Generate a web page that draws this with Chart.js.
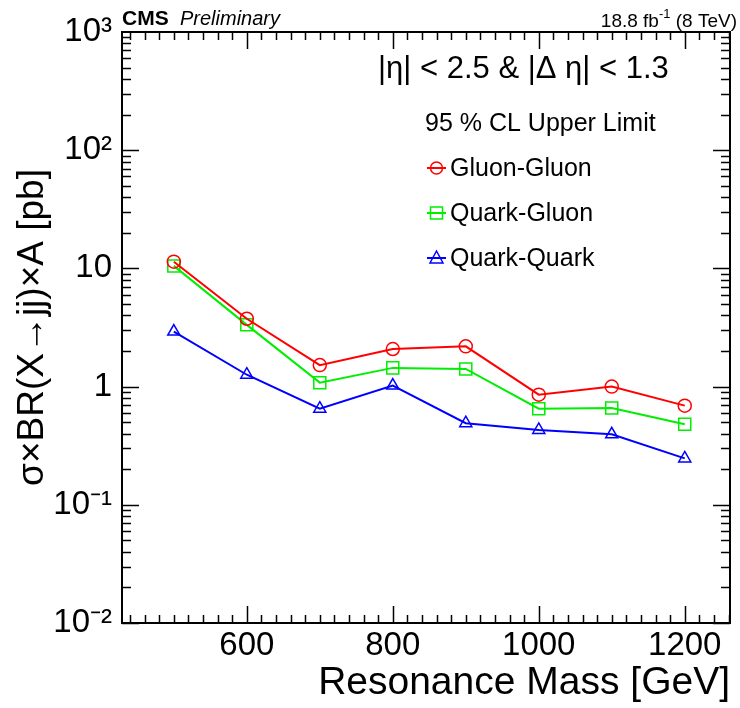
<!DOCTYPE html>
<html>
<head>
<meta charset="utf-8">
<script src="https://cdn.jsdelivr.net/npm/chart.js@4/dist/chart.umd.min.js"></script>
<style>
  html, body { margin: 0; padding: 0; background: #fff; }
  canvas { display: block; }
</style>
</head>
<body>
<canvas id="limits" width="740" height="708"></canvas>
<script>
'use strict';

// resonance masses (GeV)
const masses = [500, 600, 700, 800, 900, 1000, 1100, 1200];

// 95% CL upper limits on sigma x BR x A (pb)
const gluonGluon = [11.4, 3.75, 1.52, 2.08, 2.19, 0.855, 1.0, 0.69];
const quarkGluon = [10.5, 3.33, 1.08, 1.44, 1.41, 0.65, 0.66, 0.48];
const quarkQuark = [2.92, 1.26, 0.65, 1.02, 0.49, 0.43, 0.395, 0.247];

const xTickValues = [600, 800, 1000, 1200];
const yTickValues = [0.01, 0.1, 1, 10, 100, 1000];
const yTickLabels = ['10\u207B\u00B2', '10\u207B\u00B9', '1', '10', '10\u00B2', '10\u00B3'];

const FONT = "'Liberation Sans', Arial, Helvetica, sans-serif";

const toPoints = (ys) => ys.map((y, i) => ({ x: masses[i], y }));

// ROOT-style frame with inward ticks on all four sides, plus the text overlays
const rootFrame = {
  id: 'rootFrame',
  afterDraw(chart) {
    const { ctx, chartArea: a, scales } = chart;
    const xs = scales.x, ys = scales.y;
    ctx.save();
    ctx.strokeStyle = '#000';
    ctx.lineWidth = 1.5;

    ctx.beginPath();
    for (let m = Math.ceil(xs.min / 20) * 20; m <= xs.max; m += 20) {
      const px = Math.round(xs.getPixelForValue(m)) + 0.5;
      const len = m % 200 === 0 ? 17 : 8;
      ctx.moveTo(px, a.bottom); ctx.lineTo(px, a.bottom - len);
      ctx.moveTo(px, a.top); ctx.lineTo(px, a.top + len);
    }
    for (let d = -2; d <= 2; d++) {
      for (let k = 1; k <= 9; k++) {
        const v = k * Math.pow(10, d);
        const py = Math.round(ys.getPixelForValue(v)) + 0.5;
        const len = k === 1 ? 17 : 9;
        ctx.moveTo(a.left, py); ctx.lineTo(a.left + len, py);
        ctx.moveTo(a.right, py); ctx.lineTo(a.right - len, py);
      }
    }
    ctx.stroke();

    ctx.lineWidth = 2;
    ctx.strokeRect(a.left, a.top, a.right - a.left, a.bottom - a.top);

    // header texts
    ctx.fillStyle = '#000';
    ctx.textBaseline = 'alphabetic';
    ctx.textAlign = 'left';
    ctx.font = 'bold 21px ' + FONT;
    ctx.fillText('CMS', 122, 25);
    ctx.font = 'italic 20px ' + FONT;
    ctx.fillText('Preliminary', 180, 25);

    ctx.textAlign = 'right';
    ctx.font = '19px ' + FONT;
    const tail = ' (8 TeV)';
    const tailW = ctx.measureText(tail).width;
    ctx.fillText(tail, 737, 27);
    ctx.font = '13px ' + FONT;
    const supW = ctx.measureText('-1').width;
    ctx.fillText('-1', 737 - tailW, 18);
    ctx.font = '19px ' + FONT;
    ctx.fillText('18.8 fb', 737 - tailW - supW, 27);

    ctx.textAlign = 'left';
    ctx.font = '31px ' + FONT;
    ctx.fillText('|\u03B7| < 2.5 & |\u0394 \u03B7| < 1.3', 378, 78);

    // legend
    ctx.font = '25px ' + FONT;
    ctx.textBaseline = 'middle';
    ctx.fillText('95 % CL Upper Limit', 425, 124);
    const rows = [168, 213, 258];
    chart.data.datasets.forEach((ds, i) => {
      const y = rows[i];
      ctx.strokeStyle = ds.borderColor;
      ctx.lineWidth = 2;
      ctx.beginPath();
      ctx.moveTo(427, y); ctx.lineTo(446, y);
      ctx.stroke();
      ctx.lineWidth = 1.5;
      ctx.beginPath();
      if (ds.pointStyle === 'circle') {
        ctx.arc(436.5, y, 6, 0, Math.PI * 2);
      } else if (ds.pointStyle === 'rect') {
        ctx.rect(430.5, y - 6, 12, 12);
      } else {
        ctx.moveTo(436.5, y - 7); ctx.lineTo(443, y + 5); ctx.lineTo(430, y + 5); ctx.closePath();
      }
      ctx.stroke();
      ctx.fillStyle = '#000';
      ctx.fillText(ds.label, 450, y + 1);
    });
    ctx.restore();
  },
};

const series = (label, data, color, style, radius) => ({
  label,
  data: toPoints(data),
  borderColor: color,
  backgroundColor: 'transparent',
  borderWidth: 2,
  pointStyle: style,
  pointRadius: radius,
  pointHoverRadius: radius,
  pointBorderWidth: 1.5,
  pointBorderColor: color,
  pointBackgroundColor: 'transparent',
  tension: 0,
});

new Chart(document.getElementById('limits'), {
  type: 'line',
  data: {
    datasets: [
      series('Gluon-Gluon', gluonGluon, '#ff0000', 'circle', 6.5),
      series('Quark-Gluon', quarkGluon, '#00ee00', 'rect', 8.5),
      series('Quark-Quark', quarkQuark, '#0000ff', 'triangle', 7),
    ],
  },
  options: {
    responsive: false,
    animation: false,
    layout: { padding: { left: 0, right: 10, top: 32, bottom: 0 } },
    plugins: {
      legend: { display: false },
      tooltip: { enabled: false },
    },
    scales: {
      x: {
        type: 'linear',
        min: 429,
        max: 1262,
        grid: { display: false, drawTicks: false },
        border: { display: false },
        afterBuildTicks: (scale) => { scale.ticks = xTickValues.map((v) => ({ value: v })); },
        afterFit: (scale) => { scale.height = 85; },
        ticks: {
          color: '#000',
          padding: 6,
          maxRotation: 0,
          autoSkip: false,
          font: { family: FONT, size: 33, lineHeight: 1 },
          callback: (v) => String(v),
        },
        title: {
          display: true,
          text: 'Resonance Mass [GeV]',
          align: 'end',
          color: '#000',
          padding: { top: 0, bottom: 5 },
          font: { family: FONT, size: 39, lineHeight: 1 },
        },
      },
      y: {
        type: 'logarithmic',
        min: 0.01,
        max: 1000,
        grid: { display: false, drawTicks: false },
        border: { display: false },
        afterBuildTicks: (scale) => { scale.ticks = yTickValues.map((v) => ({ value: v })); },
        afterFit: (scale) => { scale.width = 122; },
        ticks: {
          color: '#000',
          padding: 10,
          autoSkip: false,
          font: { family: FONT, size: 33, lineHeight: 1 },
          callback: (v) => {
            const i = yTickValues.findIndex((t) => Math.abs(t - v) / t < 1e-6);
            return i >= 0 ? yTickLabels[i] : '';
          },
        },
        title: {
          display: true,
          text: '\u03C3\u00D7BR(X\u2192jj)\u00D7A [pb]',
          color: '#000',
          padding: { top: 14, bottom: 0 },
          font: { family: FONT, size: 37, lineHeight: 1 },
        },
      },
    },
  },
  plugins: [rootFrame],
});
</script>
</body>
</html>
